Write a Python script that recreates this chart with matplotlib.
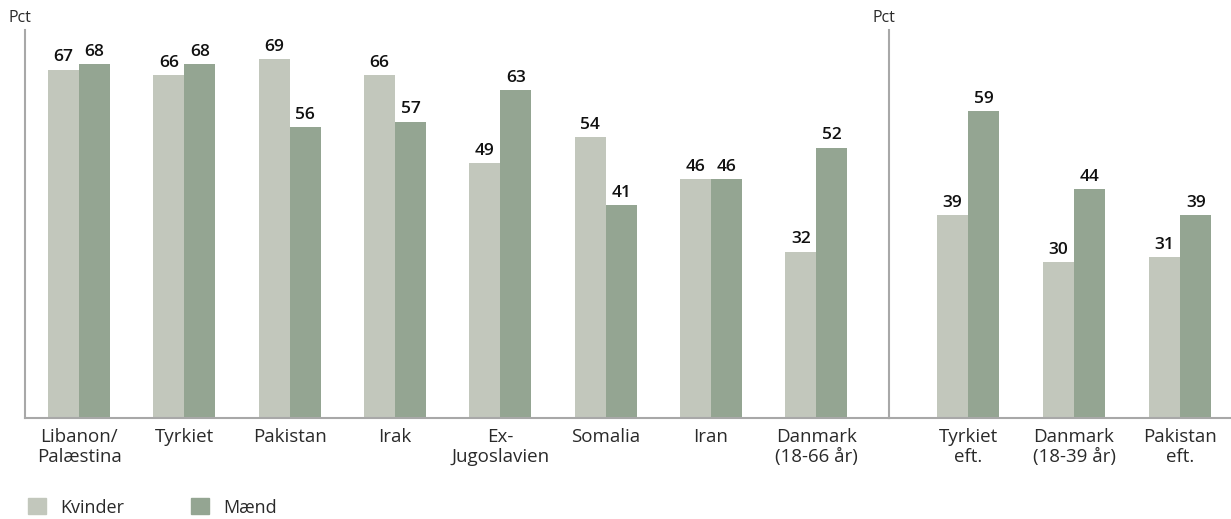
import matplotlib
matplotlib.use("Agg")
import matplotlib.pyplot as plt
import numpy as np
from matplotlib.patches import Rectangle

plt.rcParams['font.family'] = ['Open Sans', 'DejaVu Sans']

left_labels = ["Libanon/\nPalæstina", "Tyrkiet", "Pakistan", "Irak", "Ex-\nJugoslavien",
               "Somalia", "Iran", "Danmark\n(18-66 år)"]
left_kvinder = [67, 66, 69, 66, 49, 54, 46, 32]
left_maend = [68, 68, 56, 57, 63, 41, 46, 52]

right_labels = ["Tyrkiet\neft.", "Danmark\n(18-39 år)", "Pakistan\neft."]
right_kvinder = [39, 30, 31]
right_maend = [59, 44, 39]

c_kv = "#c2c7bc"
c_ma = "#94a592"
axis_c = "#a8a8a8"
txt_c = "#2a2a2a"

W, H = 1231, 519
fig = plt.figure(figsize=(W / 100, H / 100), dpi=100)

ax1 = fig.add_axes([25 / W, (H - 418) / H, (889 - 25) / W, (418 - 30) / H])
ax2 = fig.add_axes([889 / W, (H - 418) / H, (1231 - 889) / W, (418 - 30) / H])

bw = 0.295


def draw(ax, labels, kv, ma, xlim):
    x = np.arange(len(labels))
    b1 = ax.bar(x - bw / 2, kv, bw, color=c_kv)
    b2 = ax.bar(x + bw / 2, ma, bw, color=c_ma)
    for bars, vals in ((b1, kv), (b2, ma)):
        for r, v in zip(bars, vals):
            ax.annotate(str(v), (r.get_x() + r.get_width() / 2, v), xytext=(0, 3),
                        textcoords="offset points", ha="center", va="bottom",
                        fontsize=12.5, fontweight="semibold", color="#111111")
    ax.set_xlim(*xlim)
    ax.set_ylim(0, 74.6)
    ax.set_xticks(x)
    ax.set_xticklabels(labels, fontsize=13.5, color=txt_c, linespacing=1.15)
    ax.tick_params(axis="x", length=0, pad=7)
    ax.set_yticks([])
    for s in ("top", "right"):
        ax.spines[s].set_visible(False)
    for s in ("left", "bottom"):
        ax.spines[s].set_color(axis_c)
        ax.spines[s].set_linewidth(1.5)
    ax.set_facecolor("none")


draw(ax1, left_labels, left_kvinder, left_maend, (-0.513, 7.69))
draw(ax2, right_labels, right_kvinder, right_maend, (-0.745, 2.48))

fig.text(9 / W, 1 - 18 / H, "Pct", fontsize=11.5, color=txt_c, va="center", ha="left")
fig.text(872 / W, 1 - 18 / H, "Pct", fontsize=11.5, color=txt_c, va="center", ha="left")

# legend
for xs, name, col in ((28, "Kvinder", c_kv), (191, "Mænd", c_ma)):
    fig.patches.append(Rectangle((xs / W, 1 - 514 / H), 18 / W, 16 / H,
                                 transform=fig.transFigure, color=col))
    fig.text((xs + 32) / W, 1 - 508 / H, name, fontsize=13, color=txt_c,
             va="center", ha="left")

fig.savefig("out.png", dpi=100)
